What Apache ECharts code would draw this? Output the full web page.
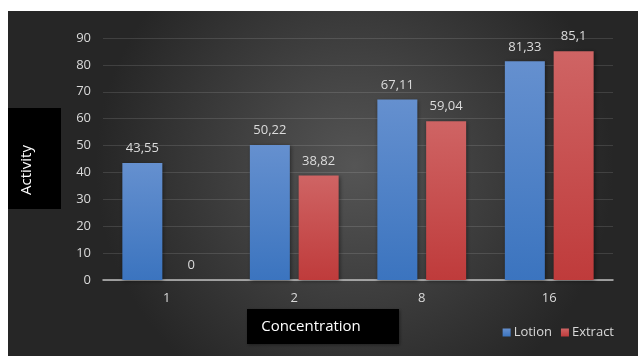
<!DOCTYPE html>
<html>
<head>
<meta charset="utf-8">
<script src="https://cdn.jsdelivr.net/npm/echarts@6/dist/echarts.min.js"></script>
<style>
  html, body { margin: 0; padding: 0; background: #fff; }
  #chart { width: 638px; height: 356px; }
</style>
</head>
<body>
<div id="chart"></div>
<script>
const categories = ['1', '2', '8', '16'];
const lotion = [43.55, 50.22, 67.11, 81.33];
const extract = [0, 38.82, 59.04, 85.1];
const yTicks = [0, 10, 20, 30, 40, 50, 60, 70, 80, 90];

const FONT = 'Open Sans';
const fmt = v => String(v).replace('.', ',');

const chart = echarts.init(document.getElementById('chart'));

function barGradient(top, bottom) {
  return new echarts.graphic.LinearGradient(0, 0, 0, 1, [
    { offset: 0, color: top },
    { offset: 1, color: bottom }
  ]);
}

const labelStyle = {
  show: true,
  position: 'top',
  distance: 8,
  color: '#dcdcdc',
  fontFamily: FONT,
  fontSize: 13,
  formatter: p => fmt(p.value)
};

chart.setOption({
  backgroundColor: '#ffffff',
  animation: false,
  textStyle: { fontFamily: FONT },
  graphic: [
    {
      type: 'rect', z: -10, silent: true,
      shape: { x: 8, y: 11, width: 630, height: 345 },
      style: {
        fill: new echarts.graphic.RadialGradient(0.55, 0.45, 0.75, [
          { offset: 0, color: '#555555' },
          { offset: 1, color: '#262626' }
        ])
      }
    },
    {
      type: 'rect', z: 10, silent: true,
      shape: { x: 8, y: 108, width: 53, height: 101 },
      style: { fill: '#000000' }
    },
    {
      type: 'text', z: 11, silent: true,
      x: 27, y: 170, rotation: Math.PI / 2,
      style: {
        text: 'Activity', fill: '#ffffff', fontFamily: FONT, fontSize: 15,
        align: 'center', verticalAlign: 'middle'
      }
    },
    {
      type: 'rect', z: 10, silent: true,
      shape: { x: 247, y: 309, width: 152, height: 35 },
      style: { fill: '#000000', shadowColor: 'rgba(0,0,0,0.4)', shadowBlur: 3, shadowOffsetX: 1, shadowOffsetY: 1 }
    },
    {
      type: 'text', z: 11, silent: true,
      x: 311, y: 327,
      style: {
        text: 'Concentration', fill: '#ffffff', fontFamily: FONT, fontSize: 15,
        align: 'center', verticalAlign: 'middle'
      }
    }
  ],
  legend: {
    data: ['Lotion', 'Extract'],
    right: 19, top: 321,
    itemWidth: 8, itemHeight: 8, itemGap: 9,
    icon: 'rect',
    textStyle: { color: '#d9d9d9', fontFamily: FONT, fontSize: 13, padding: [0, 0, 0, -2] }
  },
  grid: { left: 103, right: 25, top: 38, bottom: 76 },
  xAxis: {
    type: 'category',
    data: categories,
    axisTick: { show: false },
    axisLine: { lineStyle: { color: '#bfbfbf', width: 1.5 } },
    axisLabel: { color: '#d9d9d9', fontFamily: FONT, fontSize: 13, margin: 12 }
  },
  yAxis: {
    type: 'value',
    min: yTicks[0],
    max: yTicks[yTicks.length - 1],
    interval: yTicks[1] - yTicks[0],
    axisLine: { show: false },
    axisTick: { show: false },
    axisLabel: { color: '#d9d9d9', fontFamily: FONT, fontSize: 13, margin: 12 },
    splitLine: { lineStyle: { color: 'rgba(255,255,255,0.12)', width: 1 } }
  },
  series: [
    {
      name: 'Lotion', type: 'bar', data: lotion,
      barWidth: 40, barGap: '22%',
      itemStyle: {
        color: barGradient('#6590cf', '#3b74bf'),
        shadowColor: 'rgba(0,0,0,0.45)', shadowBlur: 4, shadowOffsetX: 1, shadowOffsetY: 1
      },
      label: labelStyle
    },
    {
      name: 'Extract', type: 'bar', data: extract,
      barWidth: 40,
      itemStyle: {
        color: barGradient('#cf6464', '#bf3b3b'),
        shadowColor: 'rgba(0,0,0,0.45)', shadowBlur: 4, shadowOffsetX: 1, shadowOffsetY: 1
      },
      label: labelStyle
    }
  ]
});
</script>
</body>
</html>
